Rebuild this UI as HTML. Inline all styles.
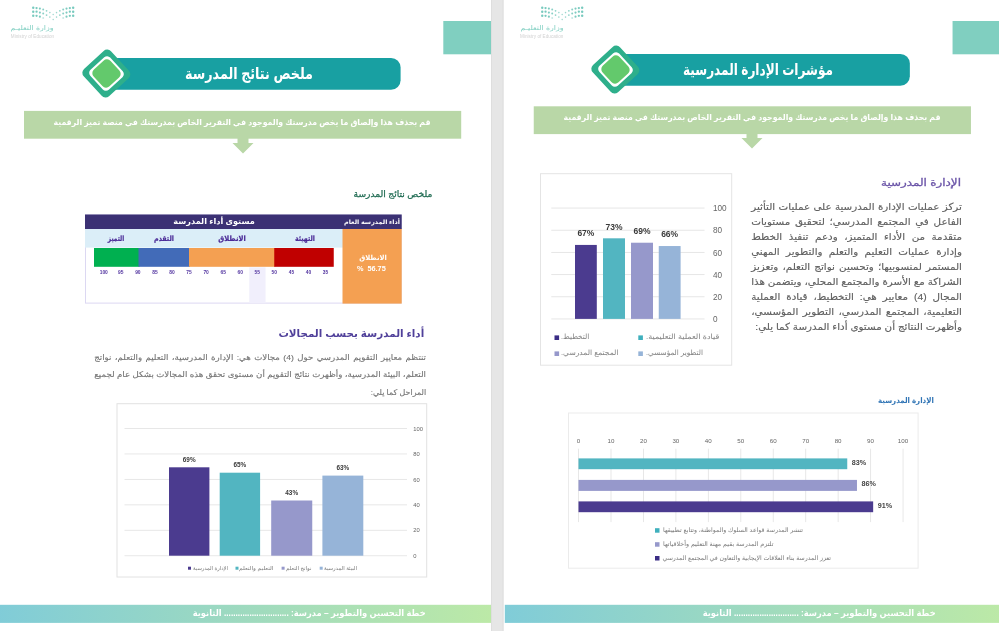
<!DOCTYPE html>
<html lang="ar"><head><meta charset="utf-8"><title>page</title><style>
*{margin:0;padding:0;box-sizing:border-box}
html,body{width:999px;height:631px;overflow:hidden;background:#fff}
body{position:relative;font-family:"Liberation Sans","DejaVu Sans",sans-serif;color:#555}
.a{position:absolute}
.t{position:absolute;white-space:nowrap;direction:rtl;line-height:1}
.l{position:absolute;white-space:nowrap;direction:ltr;line-height:1;font-family:"Liberation Sans",sans-serif}
.j{position:absolute;direction:rtl;text-align:justify;text-align-last:justify;white-space:nowrap;line-height:1}
</style></head><body>
<svg class="a" style="left:0;top:0" width="999" height="631" viewBox="0 0 999 631"><defs><linearGradient id="fg" x1="0" y1="0" x2="1" y2="0"><stop offset="0" stop-color="#80ccd8"/><stop offset="0.5" stop-color="#9edabf"/><stop offset="1" stop-color="#bce9a7"/></linearGradient></defs>
<rect x="491.00" y="0.00" width="12.50" height="631.00" fill="#e6e6e6"/>
<rect x="491.00" y="0.00" width="1.00" height="631.00" fill="#dedede"/>
<rect x="502.50" y="0.00" width="1.00" height="631.00" fill="#dedede"/>
<rect x="443.30" y="21.00" width="47.70" height="33.30" fill="#80cfc0"/>
<path d="M104.00 57.90H391.10A9.5 9.5 0 0 1 400.60 67.40V80.30A9.5 9.5 0 0 1 391.10 89.80H104.00Z" fill="#18a0a2"/>
<rect x="24.00" y="110.90" width="437.20" height="27.80" fill="#b9d7a7"/>
<rect x="85.50" y="215.00" width="315.70" height="88.10" fill="#fff" stroke="#dcd8f2" stroke-width="1"/>
<rect x="85.00" y="229.00" width="258.50" height="18.60" fill="#dbeef8"/>
<rect x="342.50" y="228.50" width="59.20" height="75.10" fill="#f4a052"/>
<rect x="85.00" y="214.50" width="316.70" height="14.50" fill="#3b3174"/>
<rect x="249.25" y="267.30" width="16.30" height="35.80" fill="#f1effc"/>
<rect x="94.00" y="248.00" width="45.50" height="18.80" fill="#00b050"/>
<rect x="138.50" y="248.00" width="51.50" height="18.80" fill="#426bb8"/>
<rect x="189.00" y="248.00" width="86.25" height="18.80" fill="#f4a052"/>
<rect x="274.25" y="248.00" width="59.50" height="18.80" fill="#c00000"/>
<rect x="117.00" y="403.70" width="309.70" height="173.30" fill="#fff" stroke="#e2e2e2" stroke-width="1"/>
<rect x="124.50" y="555.30" width="282.50" height="0.90" fill="#e5e5e5"/>
<rect x="124.50" y="529.85" width="282.50" height="0.90" fill="#e5e5e5"/>
<rect x="124.50" y="504.40" width="282.50" height="0.90" fill="#e5e5e5"/>
<rect x="124.50" y="478.95" width="282.50" height="0.90" fill="#e5e5e5"/>
<rect x="124.50" y="453.50" width="282.50" height="0.90" fill="#e5e5e5"/>
<rect x="124.50" y="428.05" width="282.50" height="0.90" fill="#e5e5e5"/>
<rect x="169.00" y="467.30" width="40.40" height="88.40" fill="#4b3b8f"/>
<rect x="219.70" y="472.70" width="40.40" height="83.00" fill="#52b5c1"/>
<rect x="271.20" y="500.50" width="41.05" height="55.20" fill="#9698cb"/>
<rect x="322.40" y="475.60" width="40.90" height="80.10" fill="#96b4d8"/>
<rect x="188.00" y="566.70" width="3.00" height="3.00" fill="#4b3b8f"/>
<rect x="235.50" y="566.70" width="3.00" height="3.00" fill="#52b5c1"/>
<rect x="281.60" y="566.70" width="3.00" height="3.00" fill="#9698cb"/>
<rect x="319.70" y="566.70" width="3.00" height="3.00" fill="#96b4d8"/>
<rect x="-4.40" y="604.8" width="495.40" height="18.1" fill="url(#fg)"/>
<rect x="952.55" y="21.00" width="60.00" height="33.30" fill="#80cfc0"/>
<path d="M613.25 53.90H900.35A9.5 9.5 0 0 1 909.85 63.40V76.30A9.5 9.5 0 0 1 900.35 85.80H613.25Z" fill="#18a0a2"/>
<rect x="533.75" y="106.30" width="437.20" height="27.80" fill="#b9d7a7"/>
<rect x="540.50" y="173.70" width="191.20" height="191.50" fill="#fff" stroke="#e4e4e4" stroke-width="1"/>
<rect x="551.25" y="318.50" width="153.30" height="0.90" fill="#e4e4e4"/>
<rect x="551.25" y="296.32" width="153.30" height="0.90" fill="#e4e4e4"/>
<rect x="551.25" y="274.14" width="153.30" height="0.90" fill="#e4e4e4"/>
<rect x="551.25" y="251.96" width="153.30" height="0.90" fill="#e4e4e4"/>
<rect x="551.25" y="229.78" width="153.30" height="0.90" fill="#e4e4e4"/>
<rect x="551.25" y="207.60" width="153.30" height="0.90" fill="#e4e4e4"/>
<rect x="575.00" y="244.93" width="21.80" height="73.97" fill="#4b3b8f"/>
<rect x="603.00" y="238.31" width="22.00" height="80.59" fill="#52b5c1"/>
<rect x="631.00" y="242.72" width="22.00" height="76.18" fill="#9698cb"/>
<rect x="658.75" y="246.04" width="21.85" height="72.86" fill="#96b4d8"/>
<rect x="554.50" y="335.40" width="4.60" height="4.60" fill="#3b2d85"/>
<rect x="554.50" y="351.40" width="4.60" height="4.60" fill="#9698cb"/>
<rect x="638.30" y="335.40" width="4.60" height="4.60" fill="#3fb0bd"/>
<rect x="638.30" y="351.40" width="4.60" height="4.60" fill="#96b4d8"/>
<rect x="568.50" y="413.00" width="349.60" height="155.20" fill="#fff" stroke="#ebebeb" stroke-width="1"/>
<rect x="578.10" y="448.70" width="0.90" height="73.40" fill="#e5e5e5"/>
<rect x="610.55" y="448.70" width="0.90" height="73.40" fill="#e5e5e5"/>
<rect x="643.00" y="448.70" width="0.90" height="73.40" fill="#e5e5e5"/>
<rect x="675.45" y="448.70" width="0.90" height="73.40" fill="#e5e5e5"/>
<rect x="707.90" y="448.70" width="0.90" height="73.40" fill="#e5e5e5"/>
<rect x="740.35" y="448.70" width="0.90" height="73.40" fill="#e5e5e5"/>
<rect x="772.80" y="448.70" width="0.90" height="73.40" fill="#e5e5e5"/>
<rect x="805.25" y="448.70" width="0.90" height="73.40" fill="#e5e5e5"/>
<rect x="837.70" y="448.70" width="0.90" height="73.40" fill="#e5e5e5"/>
<rect x="870.15" y="448.70" width="0.90" height="73.40" fill="#e5e5e5"/>
<rect x="902.60" y="448.70" width="0.90" height="73.40" fill="#e5e5e5"/>
<rect x="578.50" y="458.40" width="268.75" height="10.80" fill="#52b5c1"/>
<rect x="578.50" y="479.90" width="278.47" height="11.00" fill="#9698cb"/>
<rect x="578.50" y="501.40" width="294.66" height="10.80" fill="#4b3b8f"/>
<rect x="655.00" y="528.20" width="4.50" height="4.50" fill="#3fb0bd"/>
<rect x="655.00" y="542.20" width="4.50" height="4.50" fill="#9698cb"/>
<rect x="655.00" y="556.00" width="4.50" height="4.50" fill="#3b2d85"/>
<rect x="504.80" y="604.8" width="495.40" height="18.1" fill="url(#fg)"/>
</svg>
<svg class="a" style="left:0.00px;top:0" width="90" height="45" viewBox="0 0 90 45"><circle cx="33.22" cy="7.70" r="1.2" fill="#3fb3a2" fill-opacity="0.70"/><circle cx="73.18" cy="7.70" r="1.2" fill="#3fb3a2" fill-opacity="0.70"/><circle cx="36.55" cy="8.10" r="1.15" fill="#3fb3a2" fill-opacity="0.70"/><circle cx="69.85" cy="8.10" r="1.15" fill="#3fb3a2" fill-opacity="0.70"/><circle cx="39.88" cy="8.60" r="1.08" fill="#3fb3a2" fill-opacity="0.68"/><circle cx="66.52" cy="8.60" r="1.08" fill="#3fb3a2" fill-opacity="0.68"/><circle cx="43.21" cy="9.50" r="0.98" fill="#3fb3a2" fill-opacity="0.62"/><circle cx="63.19" cy="9.50" r="0.98" fill="#3fb3a2" fill-opacity="0.62"/><circle cx="46.54" cy="10.80" r="0.88" fill="#3fb3a2" fill-opacity="0.58"/><circle cx="59.86" cy="10.80" r="0.88" fill="#3fb3a2" fill-opacity="0.58"/><circle cx="49.87" cy="12.60" r="0.8" fill="#3fb3a2" fill-opacity="0.52"/><circle cx="56.53" cy="12.60" r="0.8" fill="#3fb3a2" fill-opacity="0.52"/><circle cx="53.20" cy="14.40" r="0.75" fill="#3fb3a2" fill-opacity="0.50"/><circle cx="33.22" cy="11.70" r="1.2" fill="#3fb3a2" fill-opacity="0.70"/><circle cx="73.18" cy="11.70" r="1.2" fill="#3fb3a2" fill-opacity="0.70"/><circle cx="36.55" cy="11.70" r="1.15" fill="#3fb3a2" fill-opacity="0.70"/><circle cx="69.85" cy="11.70" r="1.15" fill="#3fb3a2" fill-opacity="0.70"/><circle cx="39.88" cy="12.60" r="1.08" fill="#3fb3a2" fill-opacity="0.68"/><circle cx="66.52" cy="12.60" r="1.08" fill="#3fb3a2" fill-opacity="0.68"/><circle cx="43.21" cy="13.50" r="0.98" fill="#3fb3a2" fill-opacity="0.62"/><circle cx="63.19" cy="13.50" r="0.98" fill="#3fb3a2" fill-opacity="0.62"/><circle cx="46.54" cy="15.10" r="0.88" fill="#3fb3a2" fill-opacity="0.58"/><circle cx="59.86" cy="15.10" r="0.88" fill="#3fb3a2" fill-opacity="0.58"/><circle cx="49.87" cy="17.10" r="0.8" fill="#3fb3a2" fill-opacity="0.52"/><circle cx="56.53" cy="17.10" r="0.8" fill="#3fb3a2" fill-opacity="0.52"/><circle cx="53.20" cy="19.40" r="0.75" fill="#3fb3a2" fill-opacity="0.50"/><circle cx="33.22" cy="15.80" r="1.2" fill="#3fb3a2" fill-opacity="0.70"/><circle cx="73.18" cy="15.80" r="1.2" fill="#3fb3a2" fill-opacity="0.70"/><circle cx="36.55" cy="15.80" r="1.15" fill="#3fb3a2" fill-opacity="0.70"/><circle cx="69.85" cy="15.80" r="1.15" fill="#3fb3a2" fill-opacity="0.70"/><circle cx="39.88" cy="16.70" r="1.08" fill="#3fb3a2" fill-opacity="0.68"/><circle cx="66.52" cy="16.70" r="1.08" fill="#3fb3a2" fill-opacity="0.68"/><circle cx="43.21" cy="18.00" r="0.98" fill="#3fb3a2" fill-opacity="0.30"/><circle cx="63.19" cy="18.00" r="0.98" fill="#3fb3a2" fill-opacity="0.30"/></svg>
<div class="t" style="right:944.90px;top:25.25px;font-size:6.5px;color:#84d0c3;transform:scaleX(1.2110);transform-origin:100% 50%;">وزارة التعليـم</div>
<div class="l" style="left:10.80px;top:35.05px;font-size:4.6px;color:#d2d2d2;letter-spacing:0.03px;">Ministry of Education</div>
<div class="a" style="left:87.65px;top:55.25px;width:36.7px;height:36.7px;background:#2eaf8b;border-radius:5.2px;transform:rotate(47.5deg)"></div>
<div class="a" style="left:92.50px;top:60.10px;width:27px;height:27px;background:#ffffff;border-radius:4.2px;transform:rotate(47.5deg)"></div>
<div class="a" style="left:94.50px;top:62.10px;width:23px;height:23px;background:#63c96c;border-radius:5px;transform:rotate(47.5deg)"></div>
<div class="t" style="left:249.00px;top:66.45px;font-size:15.5px;color:#fff;transform:translateX(-50%) scaleX(0.8213);font-weight:bold;">ملخص نتائج المدرسة</div>
<svg class="a" style="left:230.50px;top:137.90px" width="24" height="17" viewBox="0 0 24 17"><path d="M6.5 0H17.5V5H22.5L12 15.6L1.5 5H6.5Z" fill="#b9d7a7"/></svg>
<div class="t" style="left:242.20px;top:119.00px;font-size:8.2px;color:#fff;transform:translateX(-50%) scaleX(0.9483);font-weight:bold;">قم بحذف هذا وإلصاق ما يخص مدرستك والموجود في التقرير الخاص بمدرستك في منصة تميز الرقمية</div>
<div class="t" style="right:566.50px;top:190.00px;font-size:8.6px;color:#1f6b52;transform:scaleX(1.0599);transform-origin:100% 50%;-webkit-text-stroke:0.25px #1f6b52;">ملخص نتائج المدرسة</div>
<div class="t" style="left:213.75px;top:218.00px;font-size:8px;color:#fff;transform:translateX(-50%) scaleX(1.0201);font-weight:bold;">مستوى أداء المدرسة</div>
<div class="t" style="left:372.00px;top:218.95px;font-size:6.1px;color:#fff;transform:translateX(-50%) scaleX(1.0455);font-weight:bold;">أداء المدرسة العام</div>
<div class="t" style="left:116.10px;top:234.60px;font-size:7.4px;color:#4a2a97;transform:translateX(-50%) scaleX(0.7773);font-weight:bold;-webkit-text-stroke:0.2px #4a2a97;">التميز</div>
<div class="t" style="left:163.75px;top:234.60px;font-size:7.4px;color:#4a2a97;transform:translateX(-50%) scaleX(0.8568);font-weight:bold;-webkit-text-stroke:0.2px #4a2a97;">التقدم</div>
<div class="t" style="left:231.75px;top:234.60px;font-size:7.4px;color:#4a2a97;transform:translateX(-50%) scaleX(0.9096);font-weight:bold;-webkit-text-stroke:0.2px #4a2a97;">الانطلاق</div>
<div class="t" style="left:304.50px;top:234.60px;font-size:7.4px;color:#4a2a97;transform:translateX(-50%) scaleX(0.8427);font-weight:bold;-webkit-text-stroke:0.2px #4a2a97;">التهيئة</div>
<div class="l" style="left:73.75px;width:60px;text-align:center;top:271.35px;font-size:4.9px;font-weight:bold;color:#5335a0;">100</div>
<div class="l" style="left:90.81px;width:60px;text-align:center;top:271.35px;font-size:4.9px;font-weight:bold;color:#5335a0;">95</div>
<div class="l" style="left:107.87px;width:60px;text-align:center;top:271.35px;font-size:4.9px;font-weight:bold;color:#5335a0;">90</div>
<div class="l" style="left:124.93px;width:60px;text-align:center;top:271.35px;font-size:4.9px;font-weight:bold;color:#5335a0;">85</div>
<div class="l" style="left:141.99px;width:60px;text-align:center;top:271.35px;font-size:4.9px;font-weight:bold;color:#5335a0;">80</div>
<div class="l" style="left:159.05px;width:60px;text-align:center;top:271.35px;font-size:4.9px;font-weight:bold;color:#5335a0;">75</div>
<div class="l" style="left:176.11px;width:60px;text-align:center;top:271.35px;font-size:4.9px;font-weight:bold;color:#5335a0;">70</div>
<div class="l" style="left:193.17px;width:60px;text-align:center;top:271.35px;font-size:4.9px;font-weight:bold;color:#5335a0;">65</div>
<div class="l" style="left:210.23px;width:60px;text-align:center;top:271.35px;font-size:4.9px;font-weight:bold;color:#5335a0;">60</div>
<div class="l" style="left:227.29px;width:60px;text-align:center;top:271.35px;font-size:4.9px;font-weight:bold;color:#5335a0;">55</div>
<div class="l" style="left:244.35px;width:60px;text-align:center;top:271.35px;font-size:4.9px;font-weight:bold;color:#5335a0;">50</div>
<div class="l" style="left:261.41px;width:60px;text-align:center;top:271.35px;font-size:4.9px;font-weight:bold;color:#5335a0;">45</div>
<div class="l" style="left:278.47px;width:60px;text-align:center;top:271.35px;font-size:4.9px;font-weight:bold;color:#5335a0;">40</div>
<div class="l" style="left:295.53px;width:60px;text-align:center;top:271.35px;font-size:4.9px;font-weight:bold;color:#5335a0;">35</div>
<div class="t" style="left:373.00px;top:253.50px;font-size:7px;color:#fff;transform:translateX(-50%) scaleX(0.9689);font-weight:bold;">الانطلاق</div>
<div class="l" style="left:341.30px;width:60px;text-align:center;top:264.92px;font-size:7.3px;font-weight:bold;color:#fff;">%&nbsp; 56.75</div>
<div class="t" style="right:575.25px;top:327.70px;font-size:10.6px;color:#50409a;transform:scaleX(0.9770);transform-origin:100% 50%;font-weight:bold;">أداء المدرسة بحسب المجالات</div>
<div class="j" style="right:572.70px;width:304.00px;top:353.65px;font-size:7.9px;color:#737373;transform:scaleX(1.0914);transform-origin:100% 50%;-webkit-text-stroke:0.12px #737373;">تنتظم معايير التقويم المدرسي حول (4) مجالات هي: الإدارة المدرسية، التعليم والتعلم، نواتج</div>
<div class="j" style="right:572.70px;width:304.00px;top:371.25px;font-size:7.9px;color:#737373;transform:scaleX(1.0914);transform-origin:100% 50%;-webkit-text-stroke:0.12px #737373;">التعلم، البيئة المدرسية، وأظهرت نتائج التقويم أن مستوى تحقق هذه المجالات بشكل عام لجميع</div>
<div class="t" style="right:572.70px;top:388.65px;font-size:7.9px;color:#737373;transform:scaleX(1.0045);transform-origin:100% 50%;-webkit-text-stroke:0.12px #737373;">المراحل كما يلي:</div>
<div class="l" style="left:413.30px;top:554.06px;font-size:5.8px;color:#666;">0</div>
<div class="l" style="left:413.30px;top:527.61px;font-size:5.8px;color:#666;">20</div>
<div class="l" style="left:413.30px;top:503.16px;font-size:5.8px;color:#666;">40</div>
<div class="l" style="left:413.30px;top:477.71px;font-size:5.8px;color:#666;">60</div>
<div class="l" style="left:413.30px;top:452.26px;font-size:5.8px;color:#666;">80</div>
<div class="l" style="left:413.30px;top:426.81px;font-size:5.8px;color:#666;">100</div>
<div class="l" style="left:159.20px;width:60px;text-align:center;top:457.06px;font-size:6.4px;font-weight:bold;color:#3a3a3a;">69%</div>
<div class="l" style="left:209.90px;width:60px;text-align:center;top:462.46px;font-size:6.4px;font-weight:bold;color:#3a3a3a;">65%</div>
<div class="l" style="left:261.73px;width:60px;text-align:center;top:490.26px;font-size:6.4px;font-weight:bold;color:#3a3a3a;">43%</div>
<div class="l" style="left:312.85px;width:60px;text-align:center;top:465.36px;font-size:6.4px;font-weight:bold;color:#3a3a3a;">63%</div>
<div class="t" style="left:193.00px;top:565.60px;font-size:5.2px;color:#7a7a7a;transform:scaleX(1.0067);transform-origin:0 50%;">الإدارة المدرسية</div>
<div class="t" style="left:239.30px;top:565.60px;font-size:5.2px;color:#7a7a7a;transform:scaleX(1.1488);transform-origin:0 50%;">التعليم والتعلم</div>
<div class="t" style="left:285.70px;top:565.60px;font-size:5.2px;color:#7a7a7a;transform:scaleX(1.0597);transform-origin:0 50%;">نواتج التعلم</div>
<div class="t" style="left:324.20px;top:565.60px;font-size:5.2px;color:#7a7a7a;transform:scaleX(1.0348);transform-origin:0 50%;">البيئة المدرسية</div>
<div class="t" style="right:573.00px;top:608.90px;font-size:8.6px;color:#fff;transform:scaleX(0.9681);transform-origin:100% 50%;font-weight:bold;">خطة التحسين والتطوير – مدرسة: ............................ الثانوية</div>
<svg class="a" style="left:509.25px;top:0" width="90" height="45" viewBox="0 0 90 45"><circle cx="33.22" cy="7.70" r="1.2" fill="#3fb3a2" fill-opacity="0.70"/><circle cx="73.18" cy="7.70" r="1.2" fill="#3fb3a2" fill-opacity="0.70"/><circle cx="36.55" cy="8.10" r="1.15" fill="#3fb3a2" fill-opacity="0.70"/><circle cx="69.85" cy="8.10" r="1.15" fill="#3fb3a2" fill-opacity="0.70"/><circle cx="39.88" cy="8.60" r="1.08" fill="#3fb3a2" fill-opacity="0.68"/><circle cx="66.52" cy="8.60" r="1.08" fill="#3fb3a2" fill-opacity="0.68"/><circle cx="43.21" cy="9.50" r="0.98" fill="#3fb3a2" fill-opacity="0.62"/><circle cx="63.19" cy="9.50" r="0.98" fill="#3fb3a2" fill-opacity="0.62"/><circle cx="46.54" cy="10.80" r="0.88" fill="#3fb3a2" fill-opacity="0.58"/><circle cx="59.86" cy="10.80" r="0.88" fill="#3fb3a2" fill-opacity="0.58"/><circle cx="49.87" cy="12.60" r="0.8" fill="#3fb3a2" fill-opacity="0.52"/><circle cx="56.53" cy="12.60" r="0.8" fill="#3fb3a2" fill-opacity="0.52"/><circle cx="53.20" cy="14.40" r="0.75" fill="#3fb3a2" fill-opacity="0.50"/><circle cx="33.22" cy="11.70" r="1.2" fill="#3fb3a2" fill-opacity="0.70"/><circle cx="73.18" cy="11.70" r="1.2" fill="#3fb3a2" fill-opacity="0.70"/><circle cx="36.55" cy="11.70" r="1.15" fill="#3fb3a2" fill-opacity="0.70"/><circle cx="69.85" cy="11.70" r="1.15" fill="#3fb3a2" fill-opacity="0.70"/><circle cx="39.88" cy="12.60" r="1.08" fill="#3fb3a2" fill-opacity="0.68"/><circle cx="66.52" cy="12.60" r="1.08" fill="#3fb3a2" fill-opacity="0.68"/><circle cx="43.21" cy="13.50" r="0.98" fill="#3fb3a2" fill-opacity="0.62"/><circle cx="63.19" cy="13.50" r="0.98" fill="#3fb3a2" fill-opacity="0.62"/><circle cx="46.54" cy="15.10" r="0.88" fill="#3fb3a2" fill-opacity="0.58"/><circle cx="59.86" cy="15.10" r="0.88" fill="#3fb3a2" fill-opacity="0.58"/><circle cx="49.87" cy="17.10" r="0.8" fill="#3fb3a2" fill-opacity="0.52"/><circle cx="56.53" cy="17.10" r="0.8" fill="#3fb3a2" fill-opacity="0.52"/><circle cx="53.20" cy="19.40" r="0.75" fill="#3fb3a2" fill-opacity="0.50"/><circle cx="33.22" cy="15.80" r="1.2" fill="#3fb3a2" fill-opacity="0.70"/><circle cx="73.18" cy="15.80" r="1.2" fill="#3fb3a2" fill-opacity="0.70"/><circle cx="36.55" cy="15.80" r="1.15" fill="#3fb3a2" fill-opacity="0.70"/><circle cx="69.85" cy="15.80" r="1.15" fill="#3fb3a2" fill-opacity="0.70"/><circle cx="39.88" cy="16.70" r="1.08" fill="#3fb3a2" fill-opacity="0.68"/><circle cx="66.52" cy="16.70" r="1.08" fill="#3fb3a2" fill-opacity="0.68"/><circle cx="43.21" cy="18.00" r="0.98" fill="#3fb3a2" fill-opacity="0.30"/><circle cx="63.19" cy="18.00" r="0.98" fill="#3fb3a2" fill-opacity="0.30"/></svg>
<div class="t" style="right:435.65px;top:25.25px;font-size:6.5px;color:#84d0c3;transform:scaleX(1.2110);transform-origin:100% 50%;">وزارة التعليـم</div>
<div class="l" style="left:520.05px;top:35.05px;font-size:4.6px;color:#d2d2d2;letter-spacing:0.03px;">Ministry of Education</div>
<div class="a" style="left:596.90px;top:51.25px;width:36.7px;height:36.7px;background:#2eaf8b;border-radius:5.2px;transform:rotate(47.5deg)"></div>
<div class="a" style="left:601.75px;top:56.10px;width:27px;height:27px;background:#ffffff;border-radius:4.2px;transform:rotate(47.5deg)"></div>
<div class="a" style="left:603.75px;top:58.10px;width:23px;height:23px;background:#63c96c;border-radius:5px;transform:rotate(47.5deg)"></div>
<div class="t" style="left:757.50px;top:62.45px;font-size:15.5px;color:#fff;transform:translateX(-50%) scaleX(0.7801);font-weight:bold;">مؤشرات الإدارة المدرسية</div>
<svg class="a" style="left:739.75px;top:133.30px" width="24" height="17" viewBox="0 0 24 17"><path d="M6.5 0H17.5V5H22.5L12 15.6L1.5 5H6.5Z" fill="#b9d7a7"/></svg>
<div class="t" style="left:751.95px;top:114.40px;font-size:8.2px;color:#fff;transform:translateX(-50%) scaleX(0.9483);font-weight:bold;">قم بحذف هذا وإلصاق ما يخص مدرستك والموجود في التقرير الخاص بمدرستك في منصة تميز الرقمية</div>
<div class="t" style="right:37.50px;top:178.00px;font-size:10px;color:#6b55a8;transform:scaleX(1.1938);transform-origin:100% 50%;-webkit-text-stroke:0.3px #6b55a8;">الإدارة المدرسية</div>
<div class="j" style="right:37.30px;width:199.94px;top:202.30px;font-size:9.8px;color:#606060;transform:scaleX(1.0538);transform-origin:100% 50%;-webkit-text-stroke:0.15px #606060;">تركز عمليات الإدارة المدرسية على عمليات التأثير</div>
<div class="j" style="right:37.30px;width:199.94px;top:217.22px;font-size:9.8px;color:#606060;transform:scaleX(1.0538);transform-origin:100% 50%;-webkit-text-stroke:0.15px #606060;">الفاعل في المجتمع المدرسي؛ لتحقيق مستويات</div>
<div class="j" style="right:37.30px;width:199.94px;top:232.14px;font-size:9.8px;color:#606060;transform:scaleX(1.0538);transform-origin:100% 50%;-webkit-text-stroke:0.15px #606060;">متقدمة من الأداء المتميز، ودعم تنفيذ الخطط</div>
<div class="j" style="right:37.30px;width:199.94px;top:247.06px;font-size:9.8px;color:#606060;transform:scaleX(1.0538);transform-origin:100% 50%;-webkit-text-stroke:0.15px #606060;">وإدارة عمليات التعليم والتعلم والتطوير المهني</div>
<div class="j" style="right:37.30px;width:199.94px;top:261.98px;font-size:9.8px;color:#606060;transform:scaleX(1.0538);transform-origin:100% 50%;-webkit-text-stroke:0.15px #606060;">المستمر لمنسوبيها؛ وتحسين نواتج التعلم، وتعزيز</div>
<div class="j" style="right:37.30px;width:199.94px;top:276.90px;font-size:9.8px;color:#606060;transform:scaleX(1.0538);transform-origin:100% 50%;-webkit-text-stroke:0.15px #606060;">الشراكة مع الأسرة والمجتمع المحلي، ويتضمن هذا</div>
<div class="j" style="right:37.30px;width:199.94px;top:291.82px;font-size:9.8px;color:#606060;transform:scaleX(1.0538);transform-origin:100% 50%;-webkit-text-stroke:0.15px #606060;">المجال (4) معايير هي: التخطيط، قيادة العملية</div>
<div class="j" style="right:37.30px;width:199.94px;top:306.74px;font-size:9.8px;color:#606060;transform:scaleX(1.0538);transform-origin:100% 50%;-webkit-text-stroke:0.15px #606060;">التعليمية، المجتمع المدرسي، التطوير المؤسسي،</div>
<div class="t" style="right:37.30px;top:321.66px;font-size:9.8px;color:#606060;transform:scaleX(1.0547);transform-origin:100% 50%;-webkit-text-stroke:0.15px #606060;">وأظهرت النتائج أن مستوى أداء المدرسة كما يلي:</div>
<div class="l" style="left:713.00px;top:316.13px;font-size:8.2px;color:#666;">0</div>
<div class="l" style="left:713.00px;top:293.95px;font-size:8.2px;color:#666;">20</div>
<div class="l" style="left:713.00px;top:271.77px;font-size:8.2px;color:#666;">40</div>
<div class="l" style="left:713.00px;top:249.59px;font-size:8.2px;color:#666;">60</div>
<div class="l" style="left:713.00px;top:227.41px;font-size:8.2px;color:#666;">80</div>
<div class="l" style="left:713.00px;top:205.23px;font-size:8.2px;color:#666;">100</div>
<div class="l" style="left:555.90px;width:60px;text-align:center;top:229.07px;font-size:8.5px;font-weight:bold;color:#3a3a3a;">67%</div>
<div class="l" style="left:584.00px;width:60px;text-align:center;top:223.44px;font-size:8.5px;font-weight:bold;color:#3a3a3a;">73%</div>
<div class="l" style="left:612.00px;width:60px;text-align:center;top:226.86px;font-size:8.5px;font-weight:bold;color:#3a3a3a;">69%</div>
<div class="l" style="left:639.67px;width:60px;text-align:center;top:230.17px;font-size:8.5px;font-weight:bold;color:#3a3a3a;">66%</div>
<div class="t" style="left:561.30px;top:333.30px;font-size:7.4px;color:#808080;transform:scaleX(0.9853);transform-origin:0 50%;">التخطيط.</div>
<div class="t" style="left:561.30px;top:349.30px;font-size:7.4px;color:#808080;transform:scaleX(1.0217);transform-origin:0 50%;">المجتمع المدرسي.</div>
<div class="t" style="left:646.20px;top:333.30px;font-size:7.4px;color:#808080;transform:scaleX(1.0872);transform-origin:0 50%;">قيادة العملية التعليمية.</div>
<div class="t" style="left:646.20px;top:349.30px;font-size:7.4px;color:#808080;transform:scaleX(0.9828);transform-origin:0 50%;">التطوير المؤسسي.</div>
<div class="t" style="right:65.50px;top:396.70px;font-size:7.8px;color:#2f74b5;transform:scaleX(0.9019);transform-origin:100% 50%;font-weight:bold;">الإدارة المدرسية</div>
<div class="l" style="left:548.50px;width:60px;text-align:center;top:438.21px;font-size:6.2px;color:#666;">0</div>
<div class="l" style="left:580.95px;width:60px;text-align:center;top:438.21px;font-size:6.2px;color:#666;">10</div>
<div class="l" style="left:613.40px;width:60px;text-align:center;top:438.21px;font-size:6.2px;color:#666;">20</div>
<div class="l" style="left:645.85px;width:60px;text-align:center;top:438.21px;font-size:6.2px;color:#666;">30</div>
<div class="l" style="left:678.30px;width:60px;text-align:center;top:438.21px;font-size:6.2px;color:#666;">40</div>
<div class="l" style="left:710.75px;width:60px;text-align:center;top:438.21px;font-size:6.2px;color:#666;">50</div>
<div class="l" style="left:743.20px;width:60px;text-align:center;top:438.21px;font-size:6.2px;color:#666;">60</div>
<div class="l" style="left:775.65px;width:60px;text-align:center;top:438.21px;font-size:6.2px;color:#666;">70</div>
<div class="l" style="left:808.10px;width:60px;text-align:center;top:438.21px;font-size:6.2px;color:#666;">80</div>
<div class="l" style="left:840.55px;width:60px;text-align:center;top:438.21px;font-size:6.2px;color:#666;">90</div>
<div class="l" style="left:873.00px;width:60px;text-align:center;top:438.21px;font-size:6.2px;color:#666;">100</div>
<div class="l" style="left:851.85px;top:458.67px;font-size:7.2px;font-weight:bold;color:#444;">83%</div>
<div class="l" style="left:861.57px;top:480.27px;font-size:7.2px;font-weight:bold;color:#444;">86%</div>
<div class="l" style="left:877.76px;top:501.67px;font-size:7.2px;font-weight:bold;color:#444;">91%</div>
<div class="t" style="left:662.50px;top:527.30px;font-size:6.2px;color:#777;transform:scaleX(1.0137);transform-origin:0 50%;">تنشر المدرسة قواعد السلوك والمواطنة، وتتابع تطبيقها</div>
<div class="t" style="left:662.50px;top:541.30px;font-size:6.2px;color:#777;transform:scaleX(1.0282);transform-origin:0 50%;">تلتزم المدرسة بقيم مهنة التعليم وأخلاقياتها</div>
<div class="t" style="left:662.50px;top:555.10px;font-size:6.2px;color:#777;">تعزز المدرسة بناء العلاقات الإيجابية والتعاون في المجتمع المدرسي</div>
<div class="t" style="right:63.75px;top:608.90px;font-size:8.6px;color:#fff;transform:scaleX(0.9681);transform-origin:100% 50%;font-weight:bold;">خطة التحسين والتطوير – مدرسة: ............................ الثانوية</div>
</body></html>
